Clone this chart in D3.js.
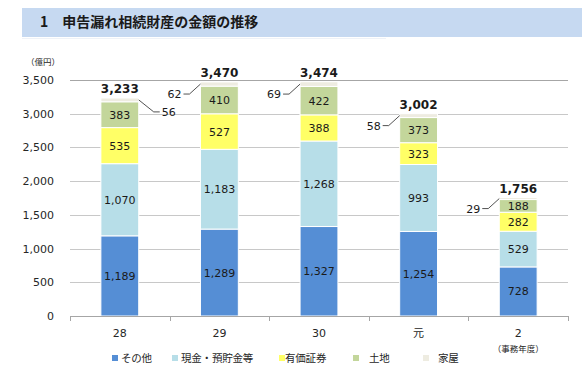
<!DOCTYPE html>
<html>
<head>
<meta charset="utf-8">
<script src="https://cdn.jsdelivr.net/npm/d3@7"></script>
<style>
    body { margin: 0; background: #fff; }
    svg { display: block; font-family: "DejaVu Sans", "Noto Sans CJK JP", sans-serif; }
</style>
</head>
<body>
<svg id="chart" width="582" height="375"></svg>
<script>
// Chart data (億円), by fiscal year.
const categories = ["28", "29", "30", "元", "2"];
const seriesNames = ["その他", "現金・預貯金等", "有価証券", "土地", "家屋"];
const sonota = [1189, 1289, 1327, 1254, 728];
const genkin = [1070, 1183, 1268, 993, 529];
const yuka = [535, 527, 388, 323, 282];
const tochi = [383, 410, 422, 373, 188];
const kaoku = [56, 62, 69, 58, 29];
const totals = [3233, 3470, 3474, 3002, 1756];
const yTicks = [0, 500, 1000, 1500, 2000, 2500, 3000, 3500];

const colors = ["#558ed5", "#b7dee8", "#ffff66", "#c3d69b", "#eeece1"];
const keys = ["sonota", "genkin", "yuka", "tochi", "kaoku"];

// Build rows for d3.stack.
const rows = categories.map((c, i) => ({
    cat: c,
    sonota: sonota[i],
    genkin: genkin[i],
    yuka: yuka[i],
    tochi: tochi[i],
    kaoku: kaoku[i],
    total: totals[i],
}));

const svg = d3.select("#chart");
const fmt = d3.format(",");

// Title band.
svg.append("rect")
    .attr("x", 22).attr("y", 8)
    .attr("width", 560).attr("height", 29)
    .attr("fill", "#c6d9f1");
svg.append("line")
    .attr("x1", 22).attr("x2", 386)
    .attr("y1", 38.5).attr("y2", 38.5)
    .attr("stroke", "#eef2f8");
svg.append("text")
    .attr("x", 40).attr("y", 27)
    .attr("font-size", 14).attr("font-weight", "bold")
    .attr("fill", "#1a1a1a")
    .attr("font-family", "'Noto Sans CJK JP', sans-serif")
    .text("1　申告漏れ相続財産の金額の推移");

// Scales.
const x = d3.scaleBand()
    .domain(categories)
    .range([70, 568])
    .paddingInner(0.62)
    .paddingOuter(0.31);
const y = d3.scaleLinear().domain([0, 3500]).range([316, 80]);

// Gridlines.
svg.append("g")
    .selectAll("line")
    .data(yTicks.filter((d) => d > 0))
    .join("line")
    .attr("x1", 70).attr("x2", 568)
    .attr("y1", (d) => Math.round(y(d)) + 0.5)
    .attr("y2", (d) => Math.round(y(d)) + 0.5)
    .attr("stroke", (d) => (d === 3500 ? "#a6a6a6" : "#c8c8c8"))
    .attr("stroke-width", 1);

// Y axis labels.
const yAxis = svg.append("g")
    .attr("transform", "translate(56,0)")
    .call(d3.axisLeft(y).tickValues(yTicks).tickSize(0).tickPadding(2).tickFormat(fmt));
yAxis.select(".domain").remove();
yAxis.selectAll("text")
    .attr("font-size", 11)
    .attr("fill", "#262626")
    .attr("font-family", "'DejaVu Sans', sans-serif");

svg.append("text")
    .attr("x", 26).attr("y", 65)
    .attr("font-size", 8.5)
    .attr("fill", "#262626")
    .attr("font-family", "'Noto Sans CJK JP', sans-serif")
    .text("（億円）");

// Stacked bars.
const stack = d3.stack().keys(keys)(rows);
const layer = svg.append("g")
    .selectAll("g")
    .data(stack)
    .join("g")
    .attr("fill", (d, i) => colors[i]);

layer.selectAll("rect")
    .data((d) => d)
    .join("rect")
    .attr("x", (d) => x(d.data.cat))
    .attr("width", x.bandwidth())
    .attr("y", (d) => y(d[1]))
    .attr("height", (d) => y(d[0]) - y(d[1]))
    .attr("stroke", "#fff")
    .attr("stroke-width", 1);

// Inside labels (all but 家屋).
layer.filter((d, i) => i < 4)
    .selectAll("text")
    .data((d) => d)
    .join("text")
    .attr("x", (d) => x(d.data.cat) + x.bandwidth() / 2)
    .attr("y", (d) => (y(d[0]) + y(d[1])) / 2)
    .attr("dy", "0.36em")
    .attr("text-anchor", "middle")
    .attr("font-size", 11)
    .attr("fill", "#1a1a1a")
    .text((d) => fmt(d[1] - d[0]));

// 家屋 labels with leader lines.
const houseLayer = stack[4];
const leaders = svg.append("g");
houseLayer.forEach((d, i) => {
    const right = i === 0;
    const x0 = right ? x(d.data.cat) + x.bandwidth() : x(d.data.cat);
    const y0 = (y(d[0]) + y(d[1])) / 2;
    const dir = right ? 1 : -1;
    const x1 = x0 + dir * (right ? 15 : 11);
    const y1 = y0 + (right ? 12 : 10);
    const x2 = x1 + dir * 6;
    leaders.append("path")
        .attr("d", `M${x0},${y0}L${x1},${y1}L${x2},${y1}`)
        .attr("fill", "none")
        .attr("stroke", "#262626")
        .attr("stroke-width", 0.8);
    leaders.append("text")
        .attr("x", x2 + dir * 2)
        .attr("y", y1)
        .attr("dy", "0.36em")
        .attr("text-anchor", right ? "start" : "end")
        .attr("font-size", 11)
        .attr("fill", "#1a1a1a")
        .text(fmt(d[1] - d[0]));
});

// Totals above the bars.
svg.append("g")
    .selectAll("text")
    .data(rows)
    .join("text")
    .attr("x", (d) => x(d.cat) + x.bandwidth() / 2)
    .attr("y", (d) => y(d.total) - 5)
    .attr("text-anchor", "middle")
    .attr("font-size", 12)
    .attr("font-weight", "bold")
    .attr("fill", "#1a1a1a")
    .text((d) => fmt(d.total));

// X axis: baseline with ticks at category boundaries.
const xAxis = svg.append("g");
xAxis.append("line")
    .attr("x1", 70).attr("x2", 568)
    .attr("y1", 316.5).attr("y2", 316.5)
    .attr("stroke", "#a6a6a6");
xAxis.selectAll(".tick")
    .data(d3.range(categories.length + 1))
    .join("line")
    .attr("x1", (i) => Math.round(70 + i * x.step()) + 0.5)
    .attr("x2", (i) => Math.round(70 + i * x.step()) + 0.5)
    .attr("y1", 316).attr("y2", 321)
    .attr("stroke", "#a6a6a6");
xAxis.selectAll("text")
    .data(categories)
    .join("text")
    .attr("x", (d) => x(d) + x.bandwidth() / 2)
    .attr("y", 333)
    .attr("dy", "0.36em")
    .attr("text-anchor", "middle")
    .attr("font-size", 11)
    .attr("fill", "#262626")
    .attr("font-family", (d) => (d === "元" ? "'Noto Sans CJK JP', sans-serif" : null))
    .text((d) => d);
svg.append("text")
    .attr("x", x("2") + x.bandwidth() / 2)
    .attr("y", 349)
    .attr("dy", "0.36em")
    .attr("text-anchor", "middle")
    .attr("font-size", 8.5)
    .attr("fill", "#262626")
    .attr("font-family", "'Noto Sans CJK JP', sans-serif")
    .text("（事務年度）");

// Legend.
const legendSquareX = [112, 172, 279, 353, 423];
const legendTextX = [121, 181, 285, 369, 438];
const legend = svg.append("g")
    .attr("font-family", "'Noto Sans CJK JP', sans-serif");
seriesNames.forEach((name, i) => {
    legend.append("rect")
        .attr("x", legendSquareX[i]).attr("y", 355)
        .attr("width", 6).attr("height", 6)
        .attr("fill", colors[i]);
    legend.append("text")
        .attr("x", legendTextX[i]).attr("y", 358)
        .attr("dy", "0.36em")
        .attr("font-size", 10.5)
        .attr("letter-spacing", -0.2)
        .attr("fill", "#262626")
        .text(name);
});
</script>
</body>
</html>
